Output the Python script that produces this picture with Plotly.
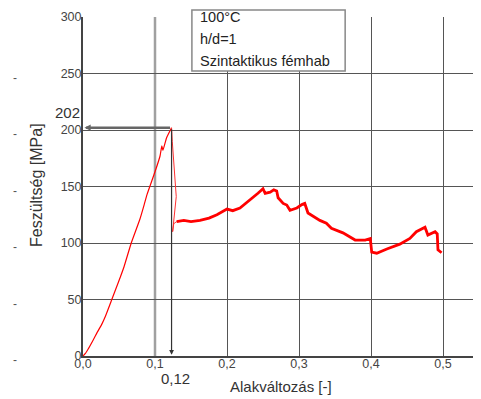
import plotly.graph_objects as go

# ---- data ----
load_strain = [0, 0.003, 0.007, 0.014, 0.019, 0.026, 0.031, 0.040, 0.049, 0.057,
               0.067, 0.079, 0.085, 0.089, 0.100, 0.107, 0.1095, 0.111, 0.116, 0.123]
load_stress = [0, 2, 6, 14, 20, 28, 35, 50, 65, 79,
               100, 121, 134, 143, 163, 177, 186, 182, 193, 202]

drop_strain = [0.123, 0.124, 0.1295, 0.1245, 0.126, 0.130]
drop_stress = [202, 190, 141, 110, 117, 119]

plat_strain = [0.130, 0.140, 0.150, 0.1625, 0.175, 0.186, 0.200, 0.208, 0.218, 0.232,
               0.243, 0.250, 0.253, 0.260, 0.265, 0.269, 0.271, 0.278, 0.283, 0.2875,
               0.297, 0.304, 0.308, 0.3125, 0.325, 0.329, 0.338, 0.345, 0.361, 0.378,
               0.392, 0.399, 0.401, 0.408, 0.422, 0.440, 0.454, 0.463, 0.475, 0.479,
               0.489, 0.492, 0.493, 0.498]
plat_stress = [119, 120, 119, 120, 122, 125, 130, 128.6, 131, 138,
               144, 148, 144, 145, 147, 146, 140, 135, 133.6, 129,
               131, 134, 135, 126.5, 121, 120, 117.5, 113, 109, 102.6,
               102.6, 104, 92, 91, 94.7, 99, 104, 110, 114, 107,
               110, 108, 94, 91.4]

peak_strain = 0.123
peak_stress = 202

x_tickvals = [0, 0.1, 0.2, 0.3, 0.4, 0.5]
x_ticktext = ["0,0", "0,1", "0,2", "0,3", "0,4", "0,5"]
y_tickvals = [0, 50, 100, 150, 200, 250, 300]
y_ticktext = ["0", "50", "100", "150", "200", "250", "300"]
x_grid = [0.2, 0.3, 0.4, 0.5]
y_grid = [50, 100, 150, 200, 250]
dash_levels = [0, 50, 100, 150, 200, 250]

info_lines = ["100°C", "h/d=1", "Szintaktikus fémhab"]

FONT = "Liberation Sans, Arial, sans-serif"

fig = go.Figure()
fig.add_trace(go.Scatter(x=load_strain, y=load_stress, mode="lines",
                         line=dict(color="#ff0000", width=1.2, shape="spline", smoothing=0.4),
                         showlegend=False))
fig.add_trace(go.Scatter(x=drop_strain, y=drop_stress, mode="lines",
                         line=dict(color="#ff3030", width=1), showlegend=False))
fig.add_trace(go.Scatter(x=plat_strain, y=plat_stress, mode="lines",
                         line=dict(color="#ff0000", width=2.8), showlegend=False))

# page body has an 8px margin, so the figure is 8px smaller than the window
fig.update_layout(
    width=473, height=391,
    margin=dict(l=75, r=2, t=9, b=43),
    paper_bgcolor="white", plot_bgcolor="white",
    font=dict(family=FONT, color="#333"),
    xaxis=dict(range=[0, 0.55], tickvals=x_tickvals, ticktext=x_ticktext,
               showgrid=False, zeroline=False, showline=True, linecolor="#444",
               linewidth=2, ticks="", ticklabelstandoff=-5,
               tickfont=dict(size=12.5, color="#444"),
               minor=dict(tickvals=x_grid, showgrid=True, gridcolor="#555",
                          gridwidth=1.4, ticks="")),
    yaxis=dict(range=[0, 300], tickvals=y_tickvals, ticktext=y_ticktext,
               showgrid=False, zeroline=False, showline=True, linecolor="#444",
               linewidth=2, ticks="", ticklabelstandoff=-3,
               tickfont=dict(size=12.5, color="#444"),
               minor=dict(tickvals=y_grid, showgrid=True, gridcolor="#555",
                          gridwidth=1.4, ticks="")),
)

# lighter wide gridline at 0.1
fig.add_shape(type="line", xref="x", yref="paper", x0=0.1, x1=0.1, y0=0, y1=1,
              line=dict(color="#a0a0a0", width=2.5), layer="below")

# info box
fig.add_shape(type="rect", xref="paper", yref="paper", x0=0.275, x1=0.662,
              y0=0.841, y1=1.021, line=dict(color="#888", width=1.5),
              fillcolor="white", layer="above")
for i, t in enumerate(info_lines):
    fig.add_annotation(xref="paper", yref="paper", x=0.290, y=0.999 - i * 0.064,
                       text=t, showarrow=False, xanchor="left", yanchor="middle",
                       font=dict(size=14.5, color="#222", family=FONT))

# arrows from peak
fig.add_annotation(x=0.002, y=peak_stress, ax=peak_strain, ay=peak_stress,
                   xref="x", yref="y", axref="x", ayref="y", text="",
                   showarrow=True, arrowhead=2, arrowsize=0.5, arrowwidth=2.5,
                   arrowcolor="#666")
fig.add_annotation(x=peak_strain, y=1, ax=peak_strain, ay=peak_stress,
                   xref="x", yref="y", axref="x", ayref="y", text="",
                   showarrow=True, arrowhead=2, arrowsize=0.8, arrowwidth=1.2,
                   arrowcolor="#333")

fig.add_annotation(x=peak_strain, y=0, xref="x", yref="y", text="0,12",
                   showarrow=False, yshift=-22, xshift=4,
                   font=dict(size=15, color="#333", family=FONT))
fig.add_annotation(x=0, y=peak_stress, xref="x", yref="y", text="202",
                   showarrow=False, yshift=15, xshift=-16,
                   font=dict(size=15, color="#333", family=FONT))

# axis titles
fig.add_annotation(xref="paper", yref="paper", x=0.5, y=-0.091, text="Alakváltozás [-]",
                   showarrow=False, xanchor="center", yanchor="middle",
                   font=dict(size=15, color="#333", family=FONT))
fig.add_annotation(xref="paper", yref="paper", x=-0.119, y=0.504, text="Feszültség [MPa]",
                   showarrow=False, textangle=-90, xanchor="center", yanchor="middle",
                   font=dict(size=16, color="#333", family=FONT))

# small dashes at left margin
for lv in dash_levels:
    fig.add_annotation(xref="paper", yref="y", x=-0.172, y=lv, text="-",
                       showarrow=False, yshift=-4, xanchor="center",
                       font=dict(size=12, color="#555", family=FONT))

fig.write_html("out.html")
